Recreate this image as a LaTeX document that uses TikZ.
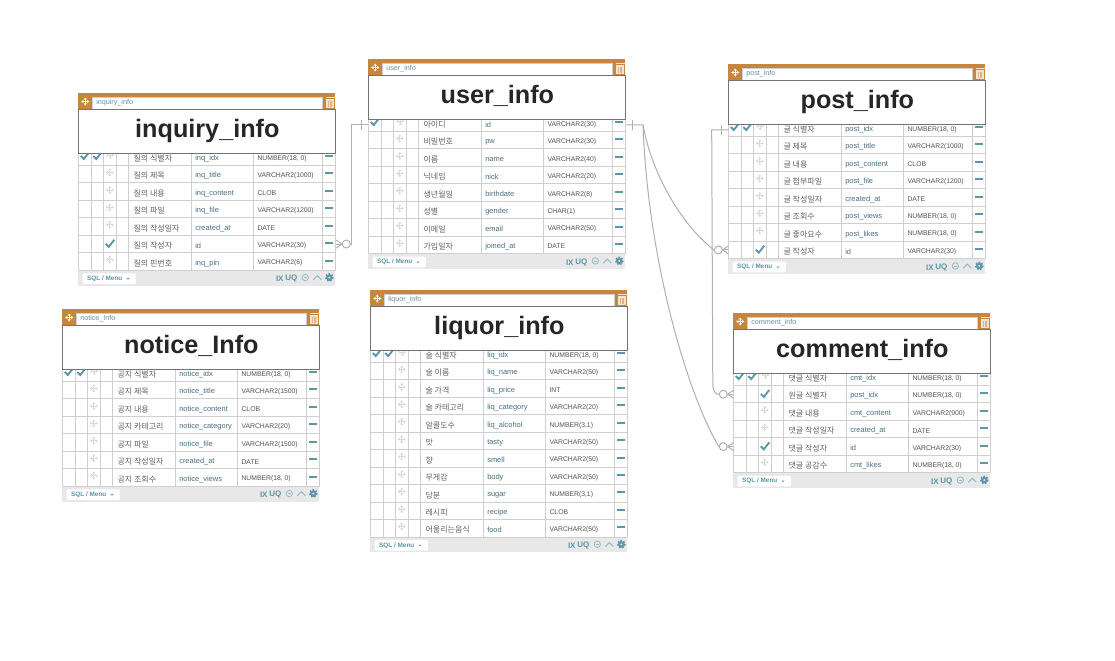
\documentclass[tikz,border=0pt]{standalone}
\usepackage{fontspec}
\setmainfont{Liberation Sans}
\newfontfamily\korfont{Noto Sans CJK KR}
\usetikzlibrary{calc,arrows.meta}
\definecolor{headorange}{HTML}{C8853C}
\definecolor{iconteal}{HTML}{5B97A8}
\definecolor{rowgray}{HTML}{CFCFCF}
\definecolor{footgray}{HTML}{E8E8E8}
\definecolor{linegray}{HTML}{B0B0B0}
\definecolor{colblue}{HTML}{4A6E85}
\definecolor{trashcream}{HTML}{F3E3CF}
\tikzset{
    rowline/.style={draw=rowgray, line width=0.75pt},
    rowbox/.style={rowline, anchor=south west, inner sep=0pt, minimum width=192.75pt},
    titlebox/.style={draw=black!55, fill=white, line width=0.8pt, anchor=north west, inner sep=0pt, minimum width=192.75pt, minimum height=32.7pt, text height=14pt, text depth=5.2pt, text=black!85, font=\bfseries\fontsize{18.9}{20}\selectfont},
    inputbox/.style={draw=rowgray, fill=white, line width=0.6pt, anchor=north west, inner sep=0pt, minimum width=172.5pt, minimum height=9pt},
    korlabel/.style={anchor=west, inner sep=0pt, text=black!62, font=\korfont\fontsize{6}{7}\selectfont},
    collabel/.style={anchor=west, inner sep=0pt, text=colblue, font=\fontsize{5.6}{7}\selectfont},
    typelabel/.style={anchor=west, inner sep=0pt, text=black!68, font=\fontsize{5.1}{6}\selectfont},
    footlabel/.style={inner sep=0pt, text=iconteal, font=\bfseries\fontsize{6}{7}\selectfont},
    menubox/.style={fill=white, rounded corners=1pt, anchor=north west, inner sep=0pt, minimum width=40pt, minimum height=8pt, text=iconteal, font=\bfseries\fontsize{4.8}{6}\selectfont},
    relline/.style={draw=linegray, line width=0.75pt},
    zerocircle/.style={circle, draw=linegray, fill=white, line width=0.75pt, inner sep=0pt, minimum size=6pt},
}
\newcommand{\moveicon}[3]{
    \draw[#3, line width=0.55pt, {Stealth[length=1.7pt,width=2.4pt]}-{Stealth[length=1.7pt,width=2.4pt]}] (#1-4,#2) -- (#1+4,#2);
    \draw[#3, line width=0.55pt, {Stealth[length=1.7pt,width=2.4pt]}-{Stealth[length=1.7pt,width=2.4pt]}] (#1,#2-4) -- (#1,#2+4);
}
\newcommand{\checkicon}[2]{
    \draw[iconteal, line width=1.4pt] (#1-4,#2) -- (#1-1,#2+3) -- (#1+4.5,#2-4);
}
\newcommand{\markn}{\moveicon{\tl+31.5}{\yb-11}{black!15}}
\newcommand{\markf}{\checkicon{\tl+31.5}{\yb-9.5}}
\newcommand{\marku}{\checkicon{\tl+6.5}{\yb-10}\moveicon{\tl+32}{\yb-11}{black!15}}
\newcommand{\markp}{\checkicon{\tl+6.5}{\yb-10}\checkicon{\tl+19}{\yb-10}\moveicon{\tl+32}{\yb-11}{black!15}}
\newcommand{\ertable}[6]{
    \def\tl{#3}
    \def\tt{#4}
    \pgfmathsetmacro{\lastb}{\tt+73+(#5-1)*17.45}
    \fill[footgray] (\tl,\lastb) rectangle (\tl+257,\lastb+14.8);
    \foreach \st/\kor/\col/\typ [count=\i] in {#6} {
        \pgfmathsetmacro{\yb}{\tt+73+(\i-1)*17.45}
        \ifnum\i=1 \def\rh{9.9pt}\else\def\rh{13.09pt}\fi
        \node[rowbox, minimum height=\rh] (#1-\i) at (\tl,\yb) {};
        \csname mark\st\endcsname
        \node[korlabel] (#1-\i-kor) at (\tl+55,\yb-7.5) {\kor};
        \node[collabel] (#1-\i-col) at (\tl+116.7,\yb-7.5) {\col};
        \node[typelabel] (#1-\i-typ) at (\tl+179,\yb-7.5) {\typ};
        \fill[iconteal] (\tl+246.5,\yb-11.2) rectangle (\tl+254.5,\yb-9.2);
    }
    \foreach \cx in {13,25,38,50.5,113,175,244,257}
        \draw[rowline] (\tl+\cx,\tt+60) -- (\tl+\cx,\lastb);
    \fill[headorange] (\tl,\tt) rectangle (\tl+257,\tt+17);
    \moveicon{\tl+7}{\tt+8.5}{white}
    \node[inputbox] (#1-input) at (\tl+14,\tt+3.5) {};
    \node[anchor=west, inner sep=0pt, text=iconteal!70!gray, font=\fontsize{5.4}{6}\selectfont] (#1-name) at (\tl+17.7,\tt+9.5) {#2};
    \fill[trashcream] (\tl+248,\tt+6) rectangle (\tl+255.5,\tt+14.5);
    \fill[trashcream] (\tl+247.2,\tt+3.6) rectangle (\tl+256.3,\tt+5.2);
    \foreach \bx in {250,251.7,253.4}
        \draw[headorange!50!trashcream, line width=0.35pt] (\tl+\bx,\tt+7.5) -- (\tl+\bx,\tt+13.5);
    \node[titlebox] (#1) at (\tl,\tt+16.3) {#2};
    \node[menubox] (#1-menu) at (\tl+4,\lastb+2.3) {SQL / Menu\hspace*{6.7pt}};
    \fill[iconteal] (\tl+48.2,\lastb+7.4) -- (\tl+51.2,\lastb+7.4) -- (\tl+49.7,\lastb+8.9) -- cycle;
    \node[footlabel] (#1-ix) at (\tl+201.5,\lastb+8.2) {IX};
    \node[footlabel] (#1-uq) at (\tl+213,\lastb+8.2) {UQ};
    \draw[iconteal!65, line width=0.6pt] (\tl+227,\lastb+6.8) circle (3.2);
    \draw[iconteal!65, line width=0.6pt] (\tl+225.5,\lastb+6.8) -- (\tl+228.5,\lastb+6.8);
    \draw[iconteal!65, line width=0.8pt] (\tl+235,\lastb+9) -- (\tl+239,\lastb+5) -- (\tl+243,\lastb+9);
    \fill[iconteal, even odd rule] (\tl+251,\lastb+6.8) circle (3.3) (\tl+251,\lastb+6.8) circle (1.3);
    \draw[iconteal, line width=1.1pt, dash pattern=on 1.2pt off 1.15pt] (\tl+251,\lastb+6.8) circle (3.6);
}
\newcommand{\crowend}[4]{
    \node[zerocircle] (#1) at ($(#2)+(#3*10,0)$) {};
    \draw[relline] (#1.#4) -- ($(#2)+(0,-4)$);
    \draw[relline] (#1.#4) -- (#2);
    \draw[relline] (#1.#4) -- ($(#2)+(0,4)$);
}
\begin{document}
\begin{tikzpicture}[x=0.75pt, y=-0.75pt]
    \useasboundingbox (0,0) rectangle (1115,661);
    \fill[white] (0,0) rectangle (1115,661);
    \ertable{inquiry}{inquiry\_info}{78.3}{93}{7}{
        p/질의 식별자/inq\_idx/{NUMBER(18, 0)},
        n/질의 제목/inq\_title/VARCHAR2(1000),
        n/질의 내용/inq\_content/CLOB,
        n/질의 파일/inq\_file/VARCHAR2(1200),
        n/질의 작성일자/created\_at/DATE,
        f/질의 작성자/id/VARCHAR2(30),
        n/질의 핀번호/inq\_pin/VARCHAR2(6)}
    \ertable{user}{user\_info}{368.3}{59}{8}{
        u/아이디/id/VARCHAR2(30),
        n/비밀번호/pw/VARCHAR2(30),
        n/이름/name/VARCHAR2(40),
        n/닉네임/nick/VARCHAR2(20),
        n/생년월일/birthdate/VARCHAR2(8),
        n/성별/gender/CHAR(1),
        n/이메일/email/VARCHAR2(50),
        n/가입일자/joined\_at/DATE}
    \ertable{post}{post\_info}{728.3}{64}{8}{
        p/글 식별자/post\_idx/{NUMBER(18, 0)},
        n/글 제목/post\_title/VARCHAR2(1000),
        n/글 내용/post\_content/CLOB,
        n/글 첨부파일/post\_file/VARCHAR2(1200),
        n/글 작성일자/created\_at/DATE,
        n/글 조회수/post\_views/{NUMBER(18, 0)},
        n/글 좋아요수/post\_likes/{NUMBER(18, 0)},
        f/글 작성자/id/VARCHAR2(30)}
    \ertable{comment}{comment\_info}{733.3}{313}{6}{
        p/댓글 식별자/cmt\_idx/{NUMBER(18, 0)},
        f/원글 식별자/post\_idx/{NUMBER(18, 0)},
        n/댓글 내용/cmt\_content/VARCHAR2(900),
        n/댓글 작성일자/created\_at/DATE,
        f/댓글 작성자/id/VARCHAR2(30),
        n/댓글 공감수/cmt\_likes/{NUMBER(18, 0)}}
    \ertable{notice}{notice\_Info}{62.3}{309}{7}{
        p/공지 식별자/notice\_idx/{NUMBER(18, 0)},
        n/공지 제목/notice\_title/VARCHAR2(1500),
        n/공지 내용/notice\_content/CLOB,
        n/공지 카테고리/notice\_category/VARCHAR2(20),
        n/공지 파일/notice\_file/VARCHAR2(1500),
        n/공지 작성일자/created\_at/DATE,
        n/공지 조회수/notice\_views/{NUMBER(18, 0)}}
    \ertable{liquor}{liquor\_info}{370.3}{290}{11}{
        p/술 식별자/liq\_idx/{NUMBER(18, 0)},
        n/술 이름/liq\_name/VARCHAR2(50),
        n/술 가격/liq\_price/INT,
        n/술 카테고리/liq\_category/VARCHAR2(20),
        n/알콜도수/liq\_alcohol/{NUMBER(3,1)},
        n/맛/tasty/VARCHAR2(50),
        n/향/smell/VARCHAR2(50),
        n/무게감/body/VARCHAR2(50),
        n/당분/sugar/{NUMBER(3,1)},
        n/레시피/recipe/CLOB,
        n/어울리는음식/food/VARCHAR2(50)}
    \crowend{zeroinq}{inquiry-6.east}{1}{west}
    \crowend{zeropost}{post-8.west}{-1}{east}
    \crowend{zerocmtpost}{comment-2.west}{-1}{east}
    \crowend{zerocmtuser}{comment-5.west}{-1}{east}
    \draw[relline] (user-1.west) -- ++(-16.6,0) |- (zeroinq.east);
    \draw[relline] ($(user-1.west)+(-7,-5)$) -- ++(0,10);
    \draw[relline] (user-1.east) -- ++(16.7,0) coordinate (userbend) .. controls (652,175) and (682,225) .. (zeropost.west);
    \draw[relline] (userbend) .. controls (648,262) and (688,395) .. (zerocmtuser.west);
    \draw[relline] ($(user-1.east)+(6,-5)$) -- ++(0,10);
    \draw[relline] (post-1.west) -- ++(-16.6,0) -- (712.8,385) .. controls (713.5,392) and (716,394.5) .. (zerocmtpost.west);
    \draw[relline] ($(post-1.west)+(-7,-5)$) -- ++(0,10);
\end{tikzpicture}
\end{document}
